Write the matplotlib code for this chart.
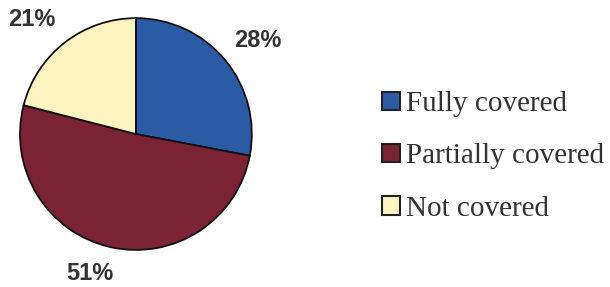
import matplotlib
matplotlib.use("Agg")
import matplotlib.pyplot as plt
import matplotlib.transforms as mtransforms
from matplotlib.patches import Patch

categories = ["Fully covered", "Partially covered", "Not covered"]
values = [28, 51, 21]
pct_labels = ["28%", "51%", "21%"]
colors = ["#2c5ba6", "#7b2234", "#fbf4c0"]

# fine-tuning of label placement (in pixels: dx, dy)
label_nudge = [(-9, 5), (8, -4), (5, 5)]

fig = plt.figure(figsize=(6.10, 2.87), dpi=100)
ax = fig.add_axes([0.0328, 0.129, 0.380, 0.808])
wedges, texts = ax.pie(values, colors=colors, startangle=90, counterclock=False,
                       labels=pct_labels, labeldistance=1.2,
                       wedgeprops=dict(edgecolor="#111111", linewidth=1.3),
                       textprops=dict(fontsize=17, fontweight="bold",
                                      family="Liberation Sans", color="#333333"))
for t, (dx, dy) in zip(texts, label_nudge):
    t.set_transform(mtransforms.offset_copy(ax.transData, fig=fig, x=dx, y=dy, units="dots"))
ax.set_xlim(-1, 1)
ax.set_ylim(-1, 1)
ax.set_aspect("equal")

handles = [Patch(facecolor=c, edgecolor="#222222", linewidth=1.5) for c in colors]
leg = fig.legend(handles, categories, loc="center left",
                 bbox_to_anchor=(0.627, 0.455), frameon=False,
                 prop=dict(family="Liberation Serif", size=21),
                 handlelength=0.6, handleheight=0.6, handletextpad=0.2,
                 labelspacing=0.9, labelcolor="#333333", borderpad=0, borderaxespad=0)

fig.savefig("out.png", dpi=100)
